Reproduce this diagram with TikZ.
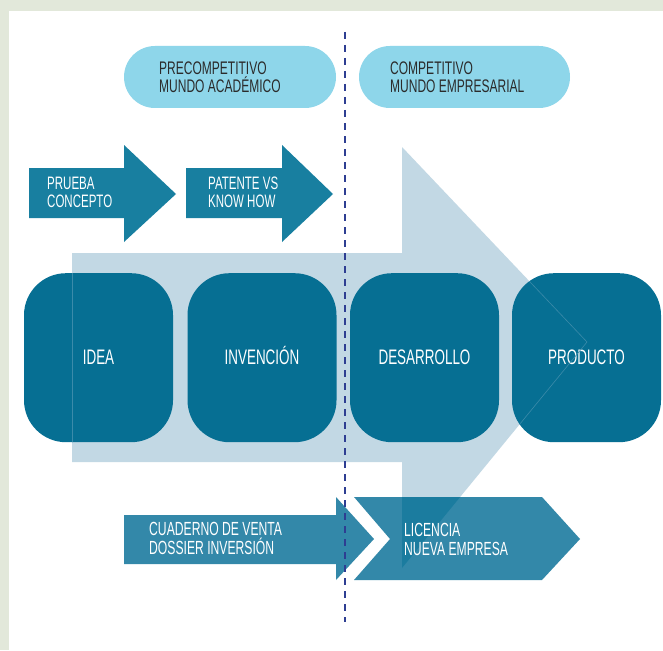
\documentclass[tikz,border=0pt]{standalone}
\usepackage{fontspec}
\setmainfont{Liberation Sans}[FakeStretch=0.64]
\newfontfamily\pillfont{Liberation Sans}[FakeStretch=0.66]
\definecolor{bordergray}{HTML}{E2E8DA}
\definecolor{pillc}{HTML}{8ED6EA}
\definecolor{toparr}{HTML}{187FA0}
\definecolor{boxc}{HTML}{066F93}
\definecolor{lightarr}{HTML}{C2D8E4}
\definecolor{botarr}{HTML}{3388A9}
\definecolor{overlapc}{HTML}{1B7C9F}
\definecolor{dashc}{HTML}{2E3E92}
\definecolor{pilltext}{HTML}{2B2B2B}
\definecolor{seam}{HTML}{3B8BAA}
\newcommand\duo[3]{\vtop{\baselineskip=#1\lineskiplimit=-100pt\hbox{#2}\hbox{#3}}}
\begin{document}
\begin{tikzpicture}[x=1pt,y=-1pt,
  stagebox/.style={fill=boxc, rounded corners=42pt, minimum width=149pt, minimum height=169pt,
    inner sep=0pt, text=white, font=\fontsize{21}{21}\selectfont, text height=15pt, text depth=1.3pt},
  pillbox/.style={fill=pillc, rounded corners=31pt, minimum height=62pt, inner sep=0pt},
  pilllabel/.style={anchor=base west, inner sep=0pt, text=pilltext, font=\pillfont\fontsize{18.2}{18.2}\selectfont},
  toplabel/.style={anchor=base west, inner sep=0pt, text=white, font=\fontsize{18}{18}\selectfont},
  botlabel/.style={anchor=base west, inner sep=0pt, text=white, font=\fontsize{19}{19}\selectfont},
  seamline/.style={draw=seam, line width=0.6pt},
  dashline/.style={draw=dashc, line width=2.8pt, dash pattern=on 7pt off 6pt}]
\useasboundingbox (0,0) rectangle (663,650);
% background
\fill[bordergray] (0,0) rectangle (663,650);
\fill[white] (9,11) rectangle (663,650);
% big light arrow
\fill[lightarr] (72,253) -- (402,253) -- (402,147) -- (587,342) -- (402,568) -- (402,462) -- (72,462) -- cycle;
% pills
\node[pillbox, minimum width=212pt] (pre) at (230,77) {};
\node[pillbox, minimum width=211pt] (comp) at (464.5,77) {};
\node[pilllabel] (prelabel) at (159,74.6) {\duo{18.2pt}{PRECOMPETITIVO}{MUNDO ACADÉMICO}};
\node[pilllabel] (complabel) at (390,74.6) {\duo{18.2pt}{COMPETITIVO}{MUNDO EMPRESARIAL}};
% stage boxes
\node[stagebox] (idea) at (98.5,357.7) {IDEA};
\node[stagebox] (invencion) at (262,357.7) {INVENCIÓN};
\node[stagebox] (desarrollo) at (424.5,357.7) {DESARROLLO};
\node[stagebox] (producto) at (586.5,357.7) {PRODUCTO};
% seams of the light arrow showing through the boxes
\begin{scope}
  \clip[rounded corners=42pt] (24,273.2) rectangle (173,442.2);
  \draw[seamline] (72,253) -- (72,462);
\end{scope}
\begin{scope}
  \clip[rounded corners=42pt] (512,273.2) rectangle (661,442.2);
  \draw[seamline] (402,147) -- (587,342) -- (402,568);
\end{scope}
% top arrows
\fill[toparr] (29,168) -- (124,168) -- (124,145) -- (176,194) -- (124,242) -- (124,218) -- (29,218) -- cycle;
\fill[toparr] (186,168) -- (282,168) -- (282,145) -- (333,194) -- (282,242) -- (282,218) -- (186,218) -- cycle;
\node[toplabel] (prueba) at (47,189) {\duo{18.5pt}{PRUEBA}{CONCEPTO}};
\node[toplabel] (patente) at (208,189) {\duo{18.5pt}{PATENTE VS}{KNOW HOW}};
% bottom arrows
\fill[botarr] (124,515) -- (336,515) -- (336,497) -- (374,539) -- (336,580) -- (336,564) -- (124,564) -- cycle;
\fill[botarr] (354,497) -- (542,497) -- (580,539) -- (542,580) -- (354,580) -- (390,539) -- cycle;
\begin{scope}
  \clip (72,253) -- (402,253) -- (402,147) -- (587,342) -- (402,568) -- (402,462) -- (72,462) -- cycle;
  \fill[overlapc] (354,497) -- (542,497) -- (580,539) -- (542,580) -- (354,580) -- (390,539) -- cycle;
\end{scope}
\node[botlabel] (cuaderno) at (149,535) {\duo{19pt}{CUADERNO DE VENTA}{DOSSIER INVERSIÓN}};
\node[botlabel] (licencia) at (404,536) {\duo{19pt}{LICENCIA}{NUEVA EMPRESA}};
% dashed divider
\coordinate (dtop) at (345,32);
\coordinate (dbot) at (345,622);
\draw[dashline] (dtop) -- (dbot);
\end{tikzpicture}
\end{document}
